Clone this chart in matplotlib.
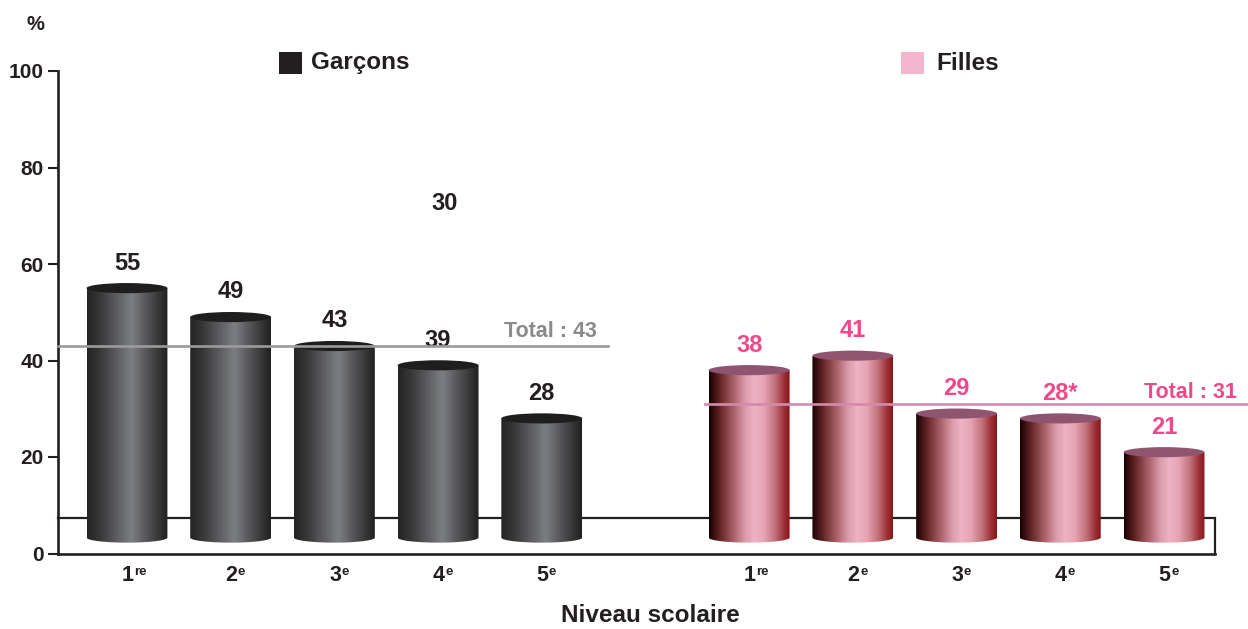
import matplotlib
matplotlib.use("Agg")
import matplotlib.pyplot as plt
import numpy as np
from matplotlib.colors import LinearSegmentedColormap
from matplotlib.patches import Ellipse, PathPatch, Rectangle
from matplotlib.path import Path

plt.rcParams['font.family'] = ['Liberation Sans', 'DejaVu Sans']
plt.rcParams['font.weight'] = 'bold'

# data
grades = ['1', '2', '3', '4', '5']
grade_sup = ['re', 'e', 'e', 'e', 'e']
garcons = [55, 49, 43, 39, 28]
garcons_labels = ['55', '49', '43', '39', '28']
filles = [38, 41, 29, 28, 21]
filles_labels = ['38', '41', '29', '28*', '21']
total_garcons = 43
total_filles = 31
stray_label = '30'
yticks = [0, 20, 40, 60, 80, 100]

dark = '#231f20'
pink_txt = '#ee4a8a'

W, H = 1248, 629
fig = plt.figure(figsize=(W / 100, H / 100), dpi=100)
ax = fig.add_axes([58 / W, (H - 553.5) / H, (W - 58) / W, (553.5 - 71) / H])

gray_cmap = LinearSegmentedColormap.from_list('g', [
    (0.0, '#242424'), (0.15, '#363637'), (0.55, '#7d7e83'),
    (0.8, '#48484a'), (1.0, '#202020')])
pink_cmap = LinearSegmentedColormap.from_list('p', [
    (0.0, '#180000'), (0.14, '#662628'), (0.3, '#a86068'),
    (0.45, '#dc9cac'), (0.56, '#efb2c6'), (0.68, '#e6a4b4'),
    (0.82, '#c0707a'), (0.93, '#9c3036'), (1.0, '#861818')])

xmin, xmax = -0.665, 10.81
box_right = 10.49
base = 3.3
bw = 0.78
eh = 2.1


def cylinder(x, top, cmap, top_color):
    a = np.linspace(np.pi, 2 * np.pi, 60)
    bx = x + bw / 2 * np.cos(a)
    by = base + eh / 2 * np.sin(a)
    verts = list(zip(bx, by)) + [(x + bw / 2, top), (x - bw / 2, top), (x - bw / 2, base)]
    patch = PathPatch(Path(verts, closed=True), facecolor='none', edgecolor='none')
    ax.add_patch(patch)
    grad = np.linspace(0, 1, 256).reshape(1, -1)
    im = ax.imshow(grad, extent=[x - bw / 2, x + bw / 2, base - eh / 2, top],
                   aspect='auto', cmap=cmap, zorder=2, interpolation='bilinear')
    im.set_clip_path(patch)
    ax.add_patch(Ellipse((x, top), bw, eh, facecolor=top_color, edgecolor='none', zorder=3))


# platform box
ax.plot([xmin, box_right, box_right], [7.3, 7.3, 0], color=dark, lw=1.6, zorder=1,
        clip_on=False, solid_joinstyle='miter')
ax.plot([xmin, box_right], [0, 0], color=dark, lw=1.9, zorder=1, clip_on=False)

xg = np.arange(len(garcons))
xf = np.arange(len(filles)) + 6

for x, v, lab in zip(xg, garcons, garcons_labels):
    cylinder(x, v, gray_cmap, '#1e1e1e')
    ax.text(x, v + 5.2, lab, ha='center', va='center', fontsize=17, color=dark)
for x, v, lab in zip(xf, filles, filles_labels):
    cylinder(x, v, pink_cmap, '#8e5470')
    ax.text(x, v + 5.2, lab, ha='center', va='center', fontsize=17, color=pink_txt)

ax.text(3.06, 72.6, stray_label, ha='center', va='center', fontsize=17, color=dark)

# totals
ax.plot([xmin, 4.64], [total_garcons, total_garcons], color='#9b9b9b', lw=1.9, zorder=4,
        clip_on=False)
ax.text(4.53, total_garcons + 3.1, f'Total : {total_garcons}', ha='right', va='center',
        fontsize=15.5, color='#8a8a8c')
ax.plot([5.57, xmax], [total_filles, total_filles], color='#d58aab', lw=1.9, zorder=4,
        clip_on=False)
ax.text(10.70, total_filles + 2.3, f'Total : {total_filles}', ha='right', va='center',
        fontsize=15.5, color=pink_txt)

ax.set_xlim(xmin, xmax)
ax.set_ylim(0, 100)
for s in ['top', 'right', 'bottom']:
    ax.spines[s].set_visible(False)
ax.spines['left'].set_linewidth(1.9)
ax.spines['left'].set_color(dark)
ax.set_yticks(yticks)
ax.tick_params(axis='y', length=7, width=1.5, color=dark, pad=3.5, labelsize=15,
               labelcolor=dark)
ax.set_xticks([])

# grade labels with superscripts
for x, g, s in zip(list(xg) + list(xf), grades * 2, grade_sup * 2):
    ax.annotate(g, xy=(x, 0), xycoords=('data', 'axes fraction'), xytext=(4.8, -16),
                textcoords='offset points', ha='right', va='center', fontsize=15.5, color=dark)
    ax.annotate(s, xy=(x, 0), xycoords=('data', 'axes fraction'), xytext=(5.2, -13.3),
                textcoords='offset points', ha='left', va='center', fontsize=9.5, color=dark)

# legend
fig.add_artist(Rectangle((279 / W, 1 - 74 / H), 23 / W, 22 / H, transform=fig.transFigure,
                         facecolor=dark, edgecolor='none'))
fig.text(311 / W, 1 - 62 / H, 'Garçons', ha='left', va='center', fontsize=17.5, color=dark)
fig.add_artist(Rectangle((901 / W, 1 - 74 / H), 23 / W, 22 / H, transform=fig.transFigure,
                         facecolor='#f5b5cf', edgecolor='none'))
fig.text(936 / W, 1 - 64 / H, 'Filles', ha='left', va='center', fontsize=17.5, color=dark)

fig.text(35 / W, 1 - 25 / H, '%', ha='center', va='center', fontsize=14.5, color=dark)
fig.text(650 / W, 1 - 616 / H, 'Niveau scolaire', ha='center', va='center', fontsize=17.5,
         color=dark)

fig.savefig('out.png', dpi=100)
